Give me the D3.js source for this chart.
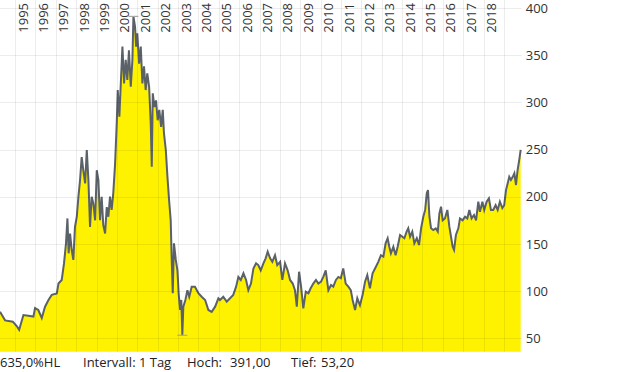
<!DOCTYPE html>
<html>
<head>
<meta charset="utf-8">
<script src="https://cdn.jsdelivr.net/npm/d3@7"></script>
<style>
  body { margin: 0; background: #fff; }
  svg { display: block; }
</style>
</head>
<body>
<script>
'use strict';

// time axis in decimal years
const dates = [
  1994.26, 1994.51, 1994.89, 1995.08, 1995.20, 1995.41, 1995.65, 1995.90, 1995.98, 1996.14,
  1996.31, 1996.47, 1996.64, 1996.80, 1997.05, 1997.13, 1997.29, 1997.40, 1997.50, 1997.57,
  1997.63, 1997.70, 1997.78, 1997.86, 1997.94, 1998.03, 1998.11, 1998.19, 1998.27, 1998.35,
  1998.44, 1998.52, 1998.60, 1998.68, 1998.76, 1998.84, 1998.93, 1999.01, 1999.09, 1999.17,
  1999.25, 1999.33, 1999.42, 1999.50, 1999.58, 1999.66, 1999.74, 1999.82, 1999.91, 1999.99,
  2000.04, 2000.12, 2000.19, 2000.27, 2000.35, 2000.43, 2000.51, 2000.59, 2000.68, 2000.76,
  2000.81, 2000.89, 2000.94, 2001.00, 2001.09, 2001.17, 2001.25, 2001.33, 2001.41, 2001.49,
  2001.58, 2001.66, 2001.71, 2001.76, 2001.84, 2001.92, 2002.00, 2002.08, 2002.17, 2002.25,
  2002.31, 2002.40, 2002.48, 2002.56, 2002.64, 2002.69, 2002.74, 2002.80, 2002.89, 2002.97,
  2003.03, 2003.10, 2003.16, 2003.21, 2003.26, 2003.36, 2003.46, 2003.55, 2003.67, 2003.83,
  2004.00, 2004.16, 2004.33, 2004.49, 2004.65, 2004.82, 2004.98, 2005.06, 2005.22, 2005.39,
  2005.55, 2005.71, 2005.85, 2005.96, 2006.08, 2006.21, 2006.34, 2006.45, 2006.58, 2006.70,
  2006.83, 2006.94, 2007.06, 2007.19, 2007.30, 2007.40, 2007.52, 2007.63, 2007.76, 2007.87,
  2008.01, 2008.12, 2008.25, 2008.38, 2008.50, 2008.63, 2008.74, 2008.83, 2008.94, 2009.04,
  2009.15, 2009.27, 2009.40, 2009.51, 2009.64, 2009.77, 2009.89, 2010.02, 2010.13, 2010.25,
  2010.38, 2010.51, 2010.62, 2010.75, 2010.87, 2010.99, 2011.11, 2011.23, 2011.36, 2011.48,
  2011.57, 2011.69, 2011.80, 2011.93, 2012.06, 2012.18, 2012.29, 2012.42, 2012.55, 2012.67,
  2012.83, 2012.96, 2013.08, 2013.19, 2013.29, 2013.37, 2013.45, 2013.57, 2013.68, 2013.78,
  2013.90, 2014.01, 2014.11, 2014.22, 2014.30, 2014.39, 2014.50, 2014.60, 2014.72, 2014.83,
  2014.93, 2015.04, 2015.13, 2015.21, 2015.27, 2015.34, 2015.42, 2015.53, 2015.65, 2015.75,
  2015.83, 2015.91, 2015.99, 2016.10, 2016.22, 2016.32, 2016.40, 2016.48, 2016.55, 2016.64,
  2016.76, 2016.84, 2016.97, 2017.09, 2017.20, 2017.30, 2017.41, 2017.53, 2017.63, 2017.74,
  2017.82, 2017.94, 2018.03, 2018.15, 2018.26, 2018.36, 2018.47, 2018.59, 2018.69, 2018.80,
  2018.92, 2019.01, 2019.10, 2019.18, 2019.26, 2019.34, 2019.43, 2019.51, 2019.59, 2019.67,
  2019.75, 2019.82
];

// closing prices at those dates
const prices = [
  78, 69, 67.6, 63, 59, 74.7, 74, 73, 82, 80,
  71.5, 83.5, 90.6, 96, 97.6, 108, 111.8, 129, 150.6, 177,
  140, 161, 143.5, 133, 168, 178.8, 200, 217.7, 242, 228,
  214, 249.5, 217.7, 168, 200, 193, 175, 228, 217.7, 175,
  200, 170, 161, 189, 178.8, 200, 186, 203.6, 235, 277.8,
  313, 284.7, 320, 359, 320, 345, 323.6, 355, 316.5, 345,
  391, 380, 359, 373, 341, 359, 320, 338, 313, 330.7,
  316.5, 277.8, 231.8, 309.5, 295, 302, 281, 292, 274, 292,
  267, 249.5, 221, 196.5, 175, 133, 97.7, 150.6, 133, 122,
  97.7, 80, 90.6, 53.2, 83.5, 90.6, 101, 94, 104.7, 104.7,
  97.7, 94, 90.6, 80, 78, 83.5, 92.4, 90.6, 94, 88.8,
  92.4, 96, 104.7, 115, 111.8, 118.9, 111.8, 101, 108, 124,
  129.4, 127.6, 122, 129.4, 134.7, 141.7, 134.7, 131, 138, 127.6,
  131, 111.8, 129.4, 122, 111.8, 108, 101, 83.5, 120.5, 104.7,
  81.8, 99.4, 97.7, 103, 108, 111.8, 108, 110, 115, 122,
  101, 106.5, 104.7, 111.8, 115, 113.6, 124, 108, 104.7, 101,
  90.6, 80, 92.4, 85, 96, 110, 117, 103, 118.9, 124,
  131, 138, 136.4, 150.6, 156, 147, 140, 147, 138, 147,
  159.4, 157.6, 156, 163, 166.5, 157.6, 163, 150.6, 156, 148.8,
  166.5, 178.8, 186, 203.6, 207, 178.8, 166.5, 164.7, 166.5, 163,
  182.4, 189.4, 175, 177, 186, 168, 157.6, 147, 143.5, 159.4,
  166.5, 177, 175, 178.8, 177, 186, 177, 180.6, 175, 194.7,
  184, 194.7, 186, 194.7, 198.3, 186, 186, 191, 186, 194.7,
  188, 191, 207, 214, 221, 217.7, 221, 224.8, 212.4, 228.3,
  239, 249.5
];

const gridYears = d3.range(1995, 2020);
const yearLabels = ['1995', '1996', '1997', '1998', '1999', '2000', '2001', '2002',
  '2003', '2004', '2005', '2006', '2007', '2008', '2009', '2010', '2011', '2012',
  '2013', '2014', '2015', '2016', '2017', '2018'];
const priceTicks = [50, 100, 150, 200, 250, 300, 350, 400];
const footerLabels = ['635,0%HL', 'Intervall: 1 Tag', 'Hoch:', '391,00', 'Tief:', '53,20'];

(function() {

  let svgContainer = ""; // keep SVG reference in global scope
  const plotW = 521.7;
  const plotH = 351.7;
  const font = "'Open Sans', 'DejaVu Sans', sans-serif";

  svgContainer = d3.select('body')
    .append('svg')
    .attr('width', 620)
    .attr('height', 372);

  let rows = dates.map((d, i) => ({ t: d, v: prices[i] }));

  // scales: the visible window runs from spring 1994 to late 2019
  let xScale = d3.scaleLinear()
    .domain([1994.26, 2019.87])
    .range([0, plotW]);

  let yScale = d3.scaleLinear()
    .domain([50, 400])
    .range([338.3, 7.9]);

  plotData(rows, xScale, yScale);
  drawGrid(xScale, yScale);
  markExtremes(rows, xScale, yScale);
  drawTicks(xScale, yScale);
  makeLabels();

  // yellow area with the grey price line on top
  function plotData(rows, x, y) {
    let area = d3.area()
      .x(d => x(d.t))
      .y0(plotH)
      .y1(d => y(d.v));

    let line = d3.line()
      .x(d => x(d.t))
      .y(d => y(d.v));

    svgContainer.append('path')
      .datum(rows)
      .attr('d', area)
      .attr('fill', '#fff200');

    svgContainer.append('path')
      .datum(rows)
      .attr('d', line)
      .attr('fill', 'none')
      .attr('stroke', '#5a6168')
      .attr('stroke-width', 2)
      .attr('stroke-linejoin', 'miter');
  }

  // grid lines sit on top of the fill, slightly darkening it
  function drawGrid(x, y) {
    let grid = svgContainer.append('g')
      .attr('stroke', '#000')
      .attr('stroke-opacity', 0.075)
      .attr('stroke-width', 1);

    grid.selectAll('.vgrid')
      .data(gridYears)
      .enter()
      .append('line')
        .attr('x1', d => Math.round(x(d)) + 0.5)
        .attr('x2', d => Math.round(x(d)) + 0.5)
        .attr('y1', 0)
        .attr('y2', plotH);

    grid.selectAll('.hgrid')
      .data(priceTicks)
      .enter()
      .append('line')
        .attr('x1', 0)
        .attr('x2', plotW)
        .attr('y1', d => Math.round(y(d)) + 0.5)
        .attr('y2', d => Math.round(y(d)) + 0.5);
  }

  // small light grey bars at the high and the low
  function markExtremes(rows, x, y) {
    let hi = rows[d3.maxIndex(rows, d => d.v)];
    let lo = rows[d3.minIndex(rows, d => d.v)];

    svgContainer.selectAll('.extreme')
      .data([hi, lo])
      .enter()
      .append('line')
        .attr('x1', d => x(d.t) - 5)
        .attr('x2', d => x(d.t) + 5)
        .attr('y1', d => y(d.v))
        .attr('y2', d => y(d.v))
        .attr('stroke', '#a8a8a8')
        .attr('stroke-width', 1.2);
  }

  // year labels at the top, price labels on the right
  function drawTicks(x, y) {
    svgContainer.selectAll('.yearLabel')
      .data(yearLabels)
      .enter()
      .append('text')
        .attr('transform', d => 'translate(' + (x(+d) + 12.5) + ', 3)rotate(-90)')
        .attr('text-anchor', 'end')
        .style('font-size', '13px')
        .style('font-family', font)
        .style('fill', '#333')
        .text(d => d);

    let yAxis = d3.axisRight(y)
      .tickValues(priceTicks)
      .tickSize(0)
      .tickPadding(4);

    let g = svgContainer.append('g')
      .attr('transform', 'translate(' + plotW + ', 0)')
      .call(yAxis);
    g.select('.domain').remove();
    g.selectAll('text')
      .style('font-size', '13px')
      .style('font-family', font)
      .style('fill', '#333');
  }

  // status line under the chart
  function makeLabels() {
    let xs = [0, 83, 187, 230, 291, 321];
    svgContainer.selectAll('.footer')
      .data(footerLabels)
      .enter()
      .append('text')
        .attr('x', (d, i) => xs[i])
        .attr('y', 367)
        .style('font-size', '13px')
        .style('font-family', font)
        .style('fill', '#222')
        .text(d => d);
  }

})();
</script>
</body>
</html>
